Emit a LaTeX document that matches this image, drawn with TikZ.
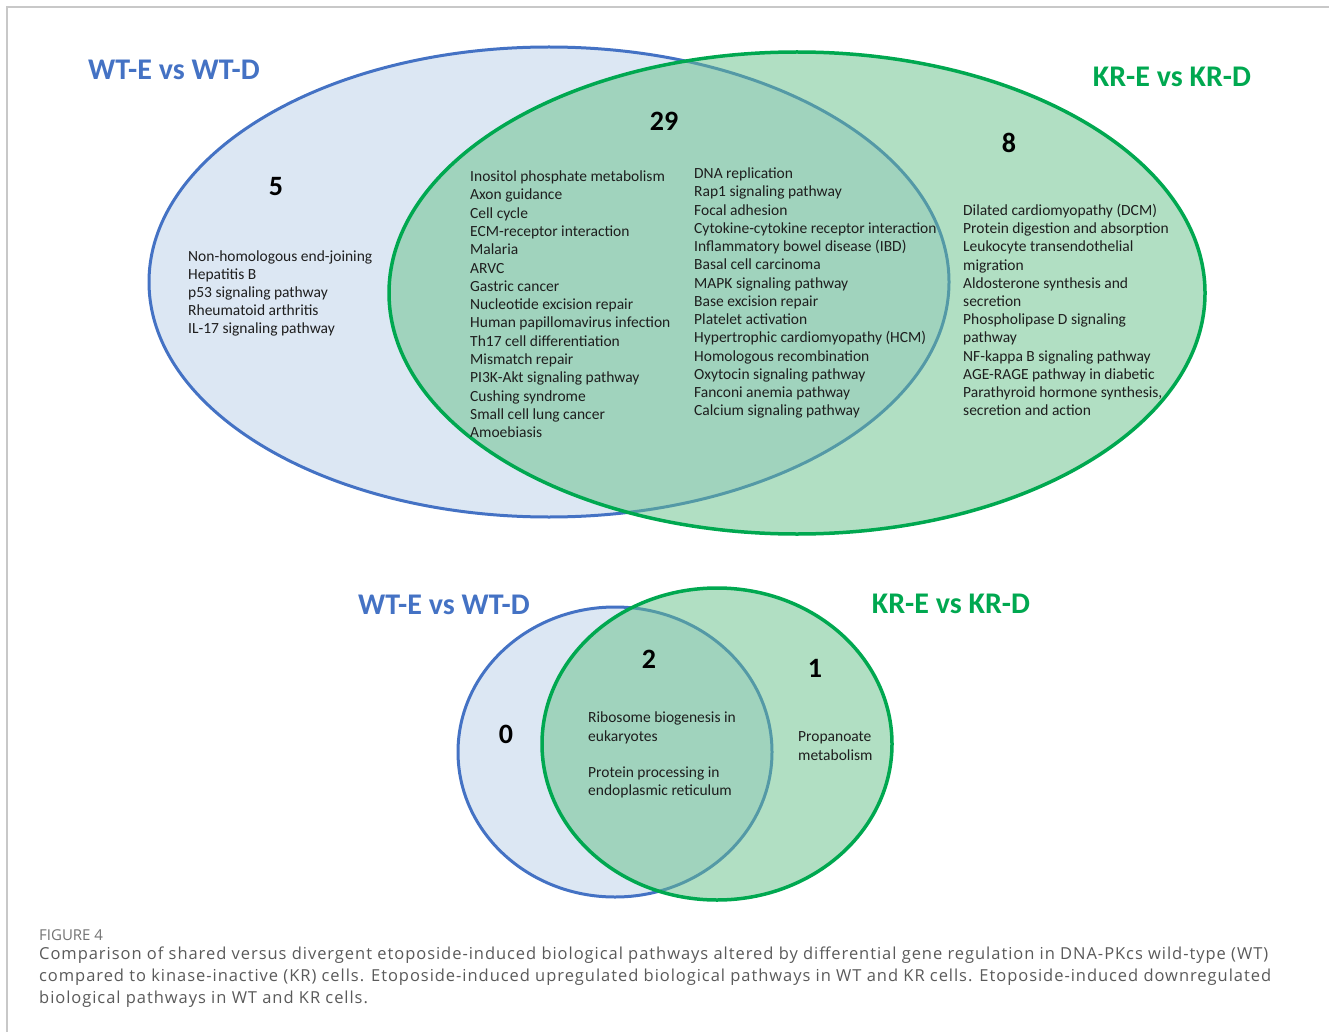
\documentclass[tikz,border=0pt]{standalone}
\usepackage{fontspec}
\setmainfont{Carlito}
\newfontfamily\capfont{Open Sans}[LetterSpace=5.8]
\newfontfamily\fignofont{Open Sans}
\definecolor{wtblue}{RGB}{68,114,196}
\definecolor{wtfill}{RGB}{220,231,243}
\definecolor{krgreen}{RGB}{0,168,80}
\definecolor{krfill}{RGB}{101,193,137}
\definecolor{txt}{RGB}{30,30,30}
\definecolor{capgray}{RGB}{90,90,90}
\definecolor{framegray}{RGB}{200,200,200}
\begin{document}
\begin{tikzpicture}[x=1pt,y=-1pt,
  item/.style={anchor=base west, inner sep=0, font=\fontsize{15.5}{17}\selectfont, text=txt},
  setlabel/.style={font=\fontsize{30}{32}\selectfont\bfseries, inner sep=0},
  countlbl/.style={font=\fontsize{28}{30}\selectfont\bfseries, inner sep=0, text=black},
  captxt/.style={anchor=west, inner sep=0, font=\capfont\fontsize{16.5}{20}\selectfont, text=capgray},
  wtset/.style={fill=wtfill, draw=wtblue, line width=3pt},
  krset/.style={fill=krfill, fill opacity=0.5, draw=krgreen, draw opacity=1, line width=3.5pt}]
\useasboundingbox (0,0) rectangle (1329,1032);
\fill[white] (0,0) rectangle (1329,1032);
% frame
\draw[framegray, line width=1.5pt] (7,1032) -- (7,7) -- (1329,7);

% top Venn
\path[wtset] (549,282) ellipse [x radius=400pt, y radius=235pt];
\path[krset] (797,293) ellipse [x radius=408pt, y radius=241pt];

\node[setlabel, text=wtblue] (wtTopLbl) at (174,70) {WT-E vs WT-D};
\node[setlabel, text=krgreen] (krTopLbl) at (1172,77) {KR-E vs KR-D};

\node[countlbl] (nFive) at (276,187) {5};
\node[countlbl] (nTwentyNine) at (664,121) {29};
\node[countlbl] (nEight) at (1009,143) {8};

\foreach \t [count=\i] in {{Non-homologous end-joining},{Hepatitis B},{p53 signaling pathway},{Rheumatoid arthritis},{IL-17 signaling pathway}}
  \node[item] (wa\i) at (188,{261.5+18*(\i-1)}) {\t};

\foreach \t [count=\i] in {{Inositol phosphate metabolism},{Axon guidance},{Cell cycle},{ECM-receptor interaction},{Malaria},{ARVC},{Gastric cancer},{Nucleotide excision repair},{Human papillomavirus infection},{Th17 cell differentiation},{Mismatch repair},{PI3K-Akt signaling pathway},{Cushing syndrome},{Small cell lung cancer},{Amoebiasis}}
  \node[item] (ma\i) at (470,{181.5+18.3*(\i-1)}) {\t};

\foreach \t [count=\i] in {{DNA replication},{Rap1 signaling pathway},{Focal adhesion},{Cytokine-cytokine receptor interaction},{Inflammatory bowel disease (IBD)},{Basal cell carcinoma},{MAPK signaling pathway},{Base excision repair},{Platelet activation},{Hypertrophic cardiomyopathy (HCM)},{Homologous recombination},{Oxytocin signaling pathway},{Fanconi anemia pathway},{Calcium signaling pathway}}
  \node[item] (mb\i) at (694,{178.5+18.25*(\i-1)}) {\t};

\foreach \t [count=\i] in {{Dilated cardiomyopathy (DCM)},{Protein digestion and absorption},{Leukocyte transendothelial},{migration},{Aldosterone synthesis and},{secretion},{Phospholipase D signaling},{pathway},{NF-kappa B signaling pathway},{AGE-RAGE pathway in diabetic},{Parathyroid hormone synthesis,},{secretion and action}}
  \node[item] (ka\i) at (963,{215.5+18.2*(\i-1)}) {\t};

% bottom Venn
\path[wtset] (615,752) ellipse [x radius=157pt, y radius=145pt];
\path[krset] (717,744) ellipse [x radius=175pt, y radius=156pt];

\node[setlabel, text=wtblue] (wtBotLbl) at (444,605) {WT-E vs WT-D};
\node[setlabel, text=krgreen] (krBotLbl) at (951,604) {KR-E vs KR-D};

\node[countlbl] (nZero) at (506,734) {0};
\node[countlbl] (nTwo) at (649,659) {2};
\node[countlbl] (nOne) at (815,668) {1};

\node[item] (ba1) at (588,722.5) {Ribosome biogenesis in};
\node[item] (ba2) at (588,741.5) {eukaryotes};
\node[item] (ba3) at (588,777.5) {Protein processing in};
\node[item] (ba4) at (588,795.5) {endoplasmic reticulum};
\node[item] (bk1) at (798,741.5) {Propanoate};
\node[item] (bk2) at (798,760.5) {metabolism};

% caption
\node[captxt, font=\fignofont\fontsize{15}{16}\selectfont, text=capgray!85] (figNo) at (39,935) {FIGURE 4};
\node[captxt] (cap1) at (39,955) {Comparison of shared versus divergent etoposide-induced biological pathways altered by differential gene regulation in DNA-PKcs wild-type (WT)};
\node[captxt] (cap2) at (39,977) {compared to kinase-inactive (KR) cells. Etoposide-induced upregulated biological pathways in WT and KR cells. Etoposide-induced downregulated};
\node[captxt] (cap3) at (39,999) {biological pathways in WT and KR cells.};
\end{tikzpicture}
\end{document}
